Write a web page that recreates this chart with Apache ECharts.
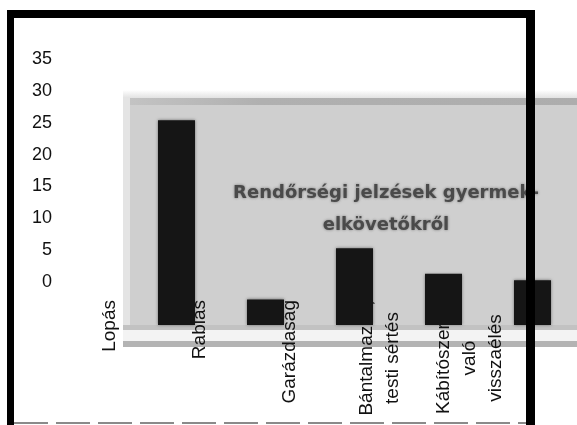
<!DOCTYPE html>
<html><head><meta charset="utf-8">
<script src="https://cdn.jsdelivr.net/npm/echarts@6/dist/echarts.min.js"></script>
<style>html,body{margin:0;padding:0;background:#fff}#c{width:577px;height:425px}</style>
</head><body><div id="c"></div>
<script>
// ---- data ----
const categories = ['Lopás', 'Rablás', 'Garázdaság', 'Bántalmazás, testi sértés', 'Kábítószerrel való visszaélés'];
const labelLines = [['Lopás'], ['Rablás'], ['Garázdaság'], ['Bántalmazás,', 'testi sértés'], ['Kábítószerrel', 'való', 'visszaélés']];
const counts = [32, 4, 12, 8, 7];
const yMin = 0, yMax = 35, yStep = 5;
const titleText = 'Rendőrségi jelzések gyermek-\nelkövetőkről';

const FONT = '"Liberation Sans", Arial, sans-serif';
const chart = echarts.init(document.getElementById('c'), null, {renderer: 'canvas'});

const option = {
  backgroundColor: '#ffffff',
  animation: false,
  title: {
    text: titleText,
    left: 381, top: 172, textAlign: 'center',
    textStyle: {
      fontFamily: '"DejaVu Sans", sans-serif', fontWeight: 'bold', fontSize: 18,
      lineHeight: 32, color: '#4a4a4a',
      textShadowColor: 'rgba(60,60,60,0.6)', textShadowBlur: 3
    }
  },
  grid: [
    {left: 65, right: 62, top: 59, bottom: 143},
    {left: 132, right: -4, top: 101, bottom: 100}
  ],
  xAxis: [
    {
      type: 'category', gridIndex: 0, data: categories, z: 5,
      axisLine: {show: false}, axisTick: {show: false}, splitLine: {show: false},
      axisLabel: {
        interval: 0, rotate: 90, margin: 18,
        fontFamily: FONT, fontSize: 19, color: '#111',
        formatter: function (v, i) {
          const lines = labelLines[i];
          if (lines.length === 1) return lines[0];
          return lines.map(function (l) { return '{c|' + l + '}'; }).join('\n');
        },
        rich: {
          c: {width: 116, align: 'center', lineHeight: 26, fontFamily: FONT, fontSize: 19, color: '#111'}
        }
      }
    },
    {
      type: 'category', gridIndex: 1, data: categories,
      axisLine: {show: false}, axisTick: {show: false}, axisLabel: {show: false}, splitLine: {show: false}
    }
  ],
  yAxis: [
    {
      type: 'value', gridIndex: 0, min: yMin, max: yMax, interval: yStep,
      axisLine: {show: false}, axisTick: {show: false}, splitLine: {show: false},
      axisLabel: {margin: 13, fontFamily: FONT, fontSize: 18, color: '#111'}
    },
    {
      type: 'value', gridIndex: 1, min: yMin, max: yMax, interval: yStep,
      axisLine: {show: false}, axisTick: {show: false}, splitLine: {show: false},
      axisLabel: {show: false}
    }
  ],
  series: [{
    type: 'bar', xAxisIndex: 1, yAxisIndex: 1, data: counts, barWidth: 37, z: 6,
    itemStyle: {color: '#151515', shadowColor: 'rgba(0,0,0,0.45)', shadowBlur: 3}
  }],
  graphic: [
    // pasted grey panel (decoration)
    {type: 'rect', z: -10, shape: {x: 123, y: 97, width: 460, height: 232}, style: {fill: '#cfcfcf'}},
    {type: 'rect', z: -9, shape: {x: 123, y: 90, width: 460, height: 8},
      style: {fill: new echarts.graphic.LinearGradient(0, 0, 0, 1, [{offset: 0, color: '#ffffff'}, {offset: 1, color: '#e2e2e2'}])}},
    {type: 'rect', z: -9, shape: {x: 123, y: 98, width: 460, height: 7},
      style: {fill: new echarts.graphic.LinearGradient(0, 0, 1, 0, [{offset: 0, color: '#c4c4c4'}, {offset: 0.3, color: '#b0b0b0'}, {offset: 1, color: '#adadad'}])}},
    {type: 'rect', z: -9, shape: {x: 123, y: 98, width: 7, height: 232}, style: {fill: '#e4e4e4'}},
    {type: 'rect', z: -9, shape: {x: 123, y: 325, width: 460, height: 5}, style: {fill: '#c2c2c2'}},
    {type: 'rect', z: -9, shape: {x: 123, y: 330, width: 460, height: 11}, style: {fill: '#f3f3f3'}},
    {type: 'rect', z: -9, shape: {x: 123, y: 341, width: 460, height: 6}, style: {fill: '#b3b3b3'}},
    // frame
    {type: 'rect', z: 100, shape: {x: 7, y: 10, width: 528, height: 8}, style: {fill: '#000'}},
    {type: 'rect', z: 100, shape: {x: 7, y: 10, width: 7, height: 415}, style: {fill: '#000'}},
    {type: 'rect', z: 100, shape: {x: 526, y: 10, width: 9, height: 415}, style: {fill: '#000'}},
    {type: 'line', z: 100, shape: {x1: 14, y1: 423, x2: 526, y2: 423},
      style: {stroke: '#8a8a8a', lineWidth: 2, lineDash: [34, 8]}}
  ]
};
chart.setOption(option);
</script></body></html>
